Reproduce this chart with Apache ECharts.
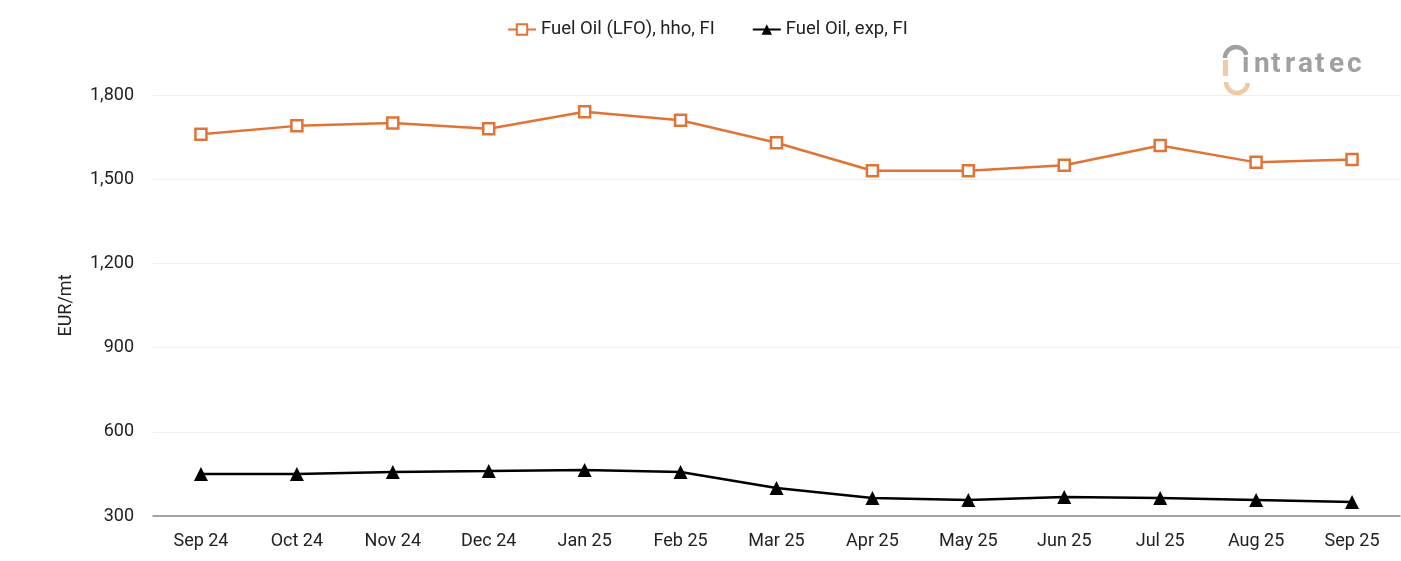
<!DOCTYPE html>
<html><head><meta charset="utf-8">
<script src="https://cdn.jsdelivr.net/npm/echarts@6/dist/echarts.min.js"></script>
<style>html,body{margin:0;padding:0;background:#fff}#c{width:1401px;height:561px}</style>
</head><body><div id="c"></div>
<script>
const categories = ['Sep 24','Oct 24','Nov 24','Dec 24','Jan 25','Feb 25','Mar 25','Apr 25','May 25','Jun 25','Jul 25','Aug 25','Sep 25'];
const lfoHho = [1660,1690,1700,1680,1740,1710,1630,1530,1530,1550,1620,1560,1570];
const fuelExp = [450,450,457,460,464,457,400,364,357,368,364,357,350];
const seriesNames = ['Fuel Oil (LFO), hho, FI','Fuel Oil, exp, FI'];
const yTicks = {min:300,max:1800,interval:300};

const logoChars = 'intratec'.split('');
const logoX = [1242,1254,1271,1285,1298,1315,1329,1347];
const logoGraphics = logoChars.map((ch,i)=>({type:'text',left:logoX[i],top:51,
  style:{text:ch,fontSize:28,fontFamily:'Roboto',fontWeight:'bold',fill:'#a0a0a0'}}));

const chart = echarts.init(document.getElementById('c'));
chart.setOption({
  backgroundColor:'#fff',
  textStyle:{fontFamily:'Roboto'},
  legend:{top:15,left:502,itemGap:37,itemWidth:28,itemHeight:13,
    textStyle:{fontSize:18.5,color:'#222',fontFamily:'Roboto'},
    data:[{name:seriesNames[0]},{name:seriesNames[1]}]},
  grid:{left:153,right:1,top:95,bottom:45,containLabel:false},
  xAxis:{type:'category',data:categories,boundaryGap:true,
    axisLine:{lineStyle:{color:'#888',width:1.5}},axisTick:{show:false},
    axisLabel:{fontSize:18,color:'#222',margin:16,fontFamily:'Roboto'}},
  yAxis:{type:'value',min:yTicks.min,max:yTicks.max,interval:yTicks.interval,
    name:'EUR/mt',nameLocation:'middle',nameGap:78,nameRotate:90,
    nameTextStyle:{fontSize:18,color:'#222',fontFamily:'Roboto'},
    axisLine:{show:false},axisTick:{show:false},
    splitLine:{lineStyle:{color:'#efefef',width:1}},
    axisLabel:{fontSize:18,color:'#222',margin:19,fontFamily:'Roboto',
      formatter:v=>v.toLocaleString('en-US')}},
  graphic:[
    ...logoGraphics,
    {type:'rect',shape:{x:1223,y:60,width:5,height:16},style:{fill:'#f1c9a6'}},
    {type:'arc',shape:{cx:1236,cy:58,r:11,startAngle:Math.PI,endAngle:Math.PI*1.9},style:{stroke:'#a0a0a0',lineWidth:4.5,fill:'none'}},
    {type:'arc',shape:{cx:1237,cy:82,r:11,startAngle:0.1,endAngle:Math.PI},style:{stroke:'#f1c9a6',lineWidth:4.5,fill:'none'}}
  ],
  series:[
    {name:seriesNames[0],type:'line',data:lfoHho,symbol:'rect',symbolSize:11,
      lineStyle:{color:'#E07436',width:2.5},
      itemStyle:{color:'#fff',borderColor:'#E07436',borderWidth:2.5},
      emphasis:{disabled:true}},
    {name:seriesNames[1],type:'line',data:fuelExp,symbol:'triangle',symbolSize:14,
      lineStyle:{color:'#000',width:2.5},
      itemStyle:{color:'#000'},emphasis:{disabled:true}}
  ],
  animation:false
});
</script></body></html>
